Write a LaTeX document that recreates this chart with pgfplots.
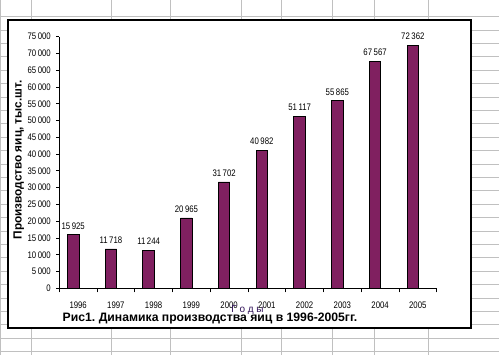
\documentclass[border=0pt]{standalone}
\usepackage{fontspec}
\setmainfont{Liberation Sans}
\newfontfamily\nf{Liberation Sans}[FakeStretch=0.82]
\usepackage{pgfplots}
\pgfplotsset{compat=1.18}
\definecolor{plum}{RGB}{128,32,96}
\definecolor{gridgray}{RGB}{192,192,192}
\definecolor{godcol}{RGB}{50,20,90}
\begin{document}
\begin{tikzpicture}[x=1pt,y=1pt]
\useasboundingbox (0,0) rectangle (499,355);
\fill[white] (0,0) rectangle (499,355);
\foreach \k in {0,...,25} \draw[gridgray, line width=0.9pt] (0,{355-16.7-13.4*\k}) -- (499,{355-16.7-13.4*\k});
\foreach \x in {0.6,31.7,111.7,170.7,241.7,281.7,332.7,374.3,428.3} \draw[gridgray, line width=0.9pt] (\x,0) -- (\x,355);
\fill[white] (8,27) rectangle (471,335);
\draw[line width=1.2pt] (8,27) rectangle (471,335);
\begin{axis}[
  at={(59.3pt,66.7pt)}, anchor=south west,
  scale only axis, width=377.4pt, height=251.6pt,
  xmin=-0.5, xmax=9.5, ymin=0, ymax=75000,
  axis x line*=bottom, axis y line*=left,
  axis line style={-, line width=0.8pt},
  ybar, bar width=11.5pt, bar shift=-5pt,
  xtick={0,...,9},
  xticklabels={1996,1997,1998,1999,2000,2001,2002,2003,2004,2005},
  major x tick style={draw=none},
  minor xtick={-0.5,0.5,...,9.5},
  minor tick length=4pt,
  major tick length=3pt,
  tick align=outside,
  tick style={black, line width=0.8pt},
  ytick={0,5000,...,75000},
  scaled y ticks=false,
  /pgf/number format/.cd, 1000 sep={\,}, assume math mode=true, /pgfplots/.cd,
  yticklabel style={font=\nf\fontsize{9.5}{10}\selectfont, xshift=-2pt},
  xticklabel style={font=\nf\fontsize{9.5}{10}\selectfont, yshift=-7pt},
  nodes near coords,
  every node near coord/.append style={font=\nf\fontsize{9.5}{10}\selectfont, black, yshift=2pt},
  clip=false,
]
\addplot[fill=plum, draw=black, line width=0.8pt] coordinates {
(0,15925) (1,11718) (2,11244) (3,20965) (4,31702) (5,40982) (6,51117) (7,55865) (8,67567) (9,72362)};
\end{axis}
\node[rotate=90, anchor=base, font=\bfseries\fontsize{11.8}{13}\selectfont, inner sep=0pt] at (21.5,195) {Производство яиц, тыс.шт.};
\node[anchor=base, font=\fontsize{10}{12}\selectfont, text=godcol, inner sep=0pt] at (247.5,42.7) {Г о д ы};
\node[anchor=base, font=\bfseries\fontsize{12.2}{13}\selectfont, inner sep=0pt] at (210,33.3) {Рис1.\hspace{-1pt} Динамика производства яиц в 1996-2005гг.};
\end{tikzpicture}
\end{document}
